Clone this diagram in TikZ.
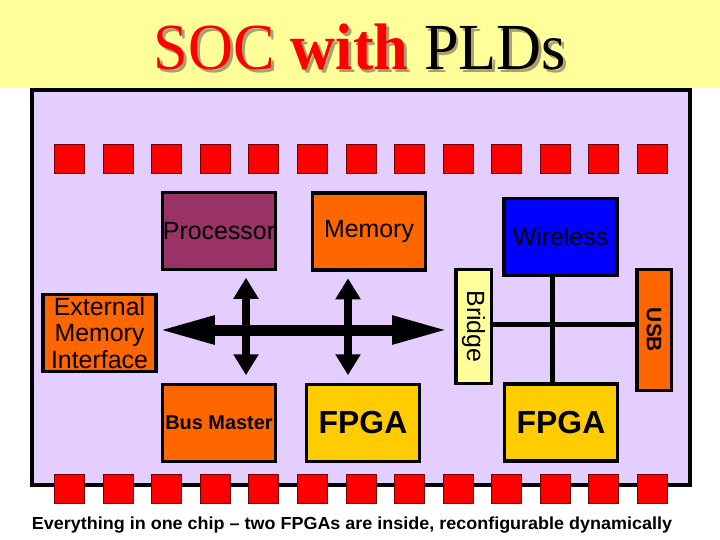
\documentclass[tikz,border=0pt]{standalone}
\usepackage{fontspec}
\setmainfont{Liberation Sans}
\newfontfamily\titlefont{Liberation Serif}
\usetikzlibrary{arrows.meta}
\definecolor{bandyellow}{RGB}{255,255,153}
\definecolor{chiplilac}{RGB}{228,206,255}
\definecolor{procpurple}{RGB}{153,51,102}
\definecolor{blockorange}{RGB}{255,102,0}
\definecolor{fpgagold}{RGB}{255,204,0}
\definecolor{padred}{RGB}{255,0,0}
\definecolor{shadowgray}{RGB}{170,160,110}

\tikzset{
  block/.style={draw=black, line width=3.5bp, minimum width=113bp, minimum height=77bp,
    inner sep=0pt, font=\fontsize{25}{27}\selectfont},
  bigfont/.style={font=\bfseries\fontsize{32}{36}\selectfont},
  pad/.style={draw=padred!45!black, line width=0.8bp, fill=padred,
    minimum width=30bp, minimum height=29bp, inner sep=0pt},
  hbus/.style={line width=11bp, {Triangle[length=57bp,width=26bp]}-{Triangle[length=57bp,width=26bp]}},
  vbus/.style={line width=8.5bp, {Triangle[length=21bp,width=24bp]}-{Triangle[length=21bp,width=24bp]}},
  wire/.style={line width=5bp}
}

\begin{document}
\begin{tikzpicture}[x=1bp,y=-1bp]
  \useasboundingbox (0,0) rectangle (720,540);
  \fill[bandyellow] (0,0) rectangle (720,88);

  \node[anchor=base, text=shadowgray] (titleshadow) at (362.5,72.5)
    {\resizebox{412bp}{\height}{\titlefont\fontsize{66}{70}\selectfont SOC {\bfseries with} PLDs}};
  \node[anchor=base] (title) at (360,70)
    {\resizebox{412bp}{\height}{\titlefont\fontsize{66}{70}\selectfont{\color{red}SOC {\bfseries with}} PLDs}};

  \draw[line width=4bp, fill=chiplilac] (32,90) rectangle (690,485);

  \foreach \i in {0,...,12} {
    \node[pad] (top\i) at (69.5+48.58*\i,159) {};
    \node[pad] (bot\i) at (69.5+48.58*\i,489) {};
  }

  \node[block, fill=procpurple] (proc) at (219,231) {Processor};
  \node[block, fill=blockorange] (mem) at (369,231.5) {Memory};
  \node[block, fill=blue] (wireless) at (560.5,237) {Wireless};
  \node[block, fill=blockorange, align=center] (emi) at (99.5,333) {External\\Memory\\Interface};
  \node[block, fill=bandyellow, minimum width=35.5bp, minimum height=113.5bp] (bridge) at (473.5,326.5)
    {\rotatebox{-90}{Bridge}};
  \node[block, fill=blockorange, minimum width=34.5bp, minimum height=120.5bp, font=\bfseries\fontsize{21}{25}\selectfont]
    (usb) at (654,330) {\rotatebox{-90}{USB}};
  \node[block, fill=blockorange, font=\bfseries\fontsize{20}{23}\selectfont] (busm) at (219,423) {Bus Master};
  \node[block, fill=fpgagold, bigfont] (fpga1) at (363,423) {FPGA};
  \node[block, fill=fpgagold, bigfont] (fpga2) at (561,422.5) {FPGA};

  \coordinate (busy) at (0,330);
  \coordinate (lane1) at (246,0);
  \coordinate (lane2) at (348,0);
  \coordinate (hub) at (552.5,324.5);

  \draw[hbus, shorten >=5bp] (emi.east |- busy) -- (bridge.west |- busy);
  \draw[vbus, shorten <=6.5bp, shorten >=7.5bp] (proc.south -| lane1) -- (busm.north -| lane1);
  \draw[vbus, shorten <=6.5bp, shorten >=7.5bp] (mem.south -| lane2) -- (fpga1.north -| lane2);
  \draw[wire] (bridge.east |- hub) -- (usb.west |- hub);
  \draw[wire] (wireless.south -| hub) -- (fpga2.north -| hub);

  \node[anchor=base] (caption) at (352,529)
    {\resizebox{640bp}{\height}{\bfseries\fontsize{17.5}{20}\selectfont Everything in one chip -- two FPGAs are inside, reconfigurable dynamically}};
\end{tikzpicture}
\end{document}
